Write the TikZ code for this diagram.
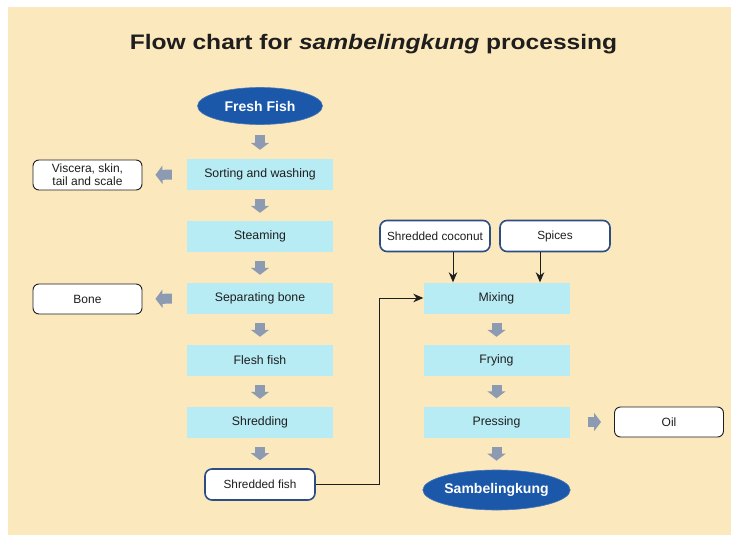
\documentclass[tikz,border=0pt]{standalone}
\usepackage{fontspec}
\setmainfont{Liberation Sans}
\usetikzlibrary{arrows.meta,shapes.geometric,calc}
\definecolor{bgc}{RGB}{251,232,188}
\definecolor{cyanc}{RGB}{183,236,245}
\definecolor{greyc}{RGB}{140,155,178}
\definecolor{ellc}{RGB}{28,88,170}
\definecolor{bluec}{RGB}{45,78,132}
\definecolor{txtc}{RGB}{30,30,30}
\begin{document}
\begin{tikzpicture}[x=1pt,y=-1pt,
  proc/.style={fill=cyanc, minimum width=146pt, minimum height=31pt, inner sep=0pt, text=txtc, font=\fontsize{12.3}{14}\selectfont},
  outbox/.style={draw=txtc, line width=0.9pt, rounded corners=6pt, fill=white, minimum width=109pt, minimum height=30pt, inner sep=0pt, align=center, text=txtc, font=\fontsize{12}{13}\selectfont},
  inbox/.style={draw=bluec, line width=1.6pt, rounded corners=7pt, fill=white, minimum width=110pt, minimum height=31pt, inner sep=0pt, text=txtc, font=\fontsize{11.8}{13}\selectfont},
  term/.style={ellipse, fill=ellc, draw=ellc!80!white, line width=0.6pt, text=white, font=\bfseries\fontsize{14}{16}\selectfont, minimum width=125pt, minimum height=37pt, inner sep=0pt},
  garrow/.style={draw=greyc, line width=10pt, -{Triangle[width=18pt,length=7pt]}, shorten <=9pt, shorten >=8pt},
  larrow/.style={draw=txtc, line width=1pt, -{Stealth[length=10pt,width=8.5pt]}}
  ]
\useasboundingbox (0,0) rectangle (731,535);
\fill[white] (0,0) rectangle (731,535);
\fill[bgc] (8,7) rectangle (731,535);

\node[anchor=base, text=txtc] (title) at (373.5,50) {\scalebox{1.17}[1]{\fontsize{21}{25}\selectfont\bfseries Flow chart for \textit{sambelingkung} processing}};

\node[term] (fresh) at (260,106) {Fresh Fish};
\node[proc] (sort) at (260,174.5) {Sorting and washing};
\node[proc] (steam) at (260,236.5) {Steaming};
\node[proc] (sep) at (260,298.5) {Separating bone};
\node[proc] (flesh) at (260,360.5) {Flesh fish};
\node[proc] (shred) at (260,422.5) {Shredding};
\node[inbox] (sfish) at (260,484.5) {Shredded fish};
\node[outbox] (visc) at (87.5,175) {Viscera, skin,\\tail and scale};
\node[outbox] (bone) at (87.5,299) {Bone};

\node[inbox] (coco) at (435,236) {Shredded coconut};
\node[inbox] (spice) at (555,236) {Spices};
\node[proc] (mix) at (496.5,298) {Mixing};
\node[proc] (fry) at (496.5,360.5) {Frying};
\node[proc] (press) at (496.5,422) {Pressing};
\node[outbox] (oil) at (669,422) {Oil};
\node[term, minimum width=147pt, minimum height=40pt] (samb) at (496.5,490) {Sambelingkung};

\draw[garrow, shorten <=10pt, shorten >=9pt] (fresh.south) -- (sort.north);
\draw[garrow] (sort.south) -- (steam.north);
\draw[garrow] (steam.south) -- (sep.north);
\draw[garrow] (sep.south) -- (flesh.north);
\draw[garrow] (flesh.south) -- (shred.north);
\draw[garrow] (shred.south) -- (sfish.north);
\draw[garrow, shorten <=15pt, shorten >=13pt] (sort.west) -- (visc.east);
\draw[garrow, shorten <=15pt, shorten >=13pt] (sep.west) -- (bone.east);

\draw[garrow] (mix.south) -- (fry.north);
\draw[garrow] (fry.south) -- (press.north);
\draw[garrow, shorten <=9pt, shorten >=9pt] (press.south) -- (samb.north);
\draw[garrow, shorten <=18pt, shorten >=13pt] (press.east) -- (oil.west);

\draw[larrow] ([xshift=18pt]coco.south) -- ([xshift=18pt]coco.south |- mix.north);
\draw[larrow] ([xshift=-15pt]spice.south) -- ([xshift=-15pt]spice.south |- mix.north);
\draw[larrow] (sfish.east) -- ++(64,0) |- (mix.west);
\end{tikzpicture}
\end{document}
